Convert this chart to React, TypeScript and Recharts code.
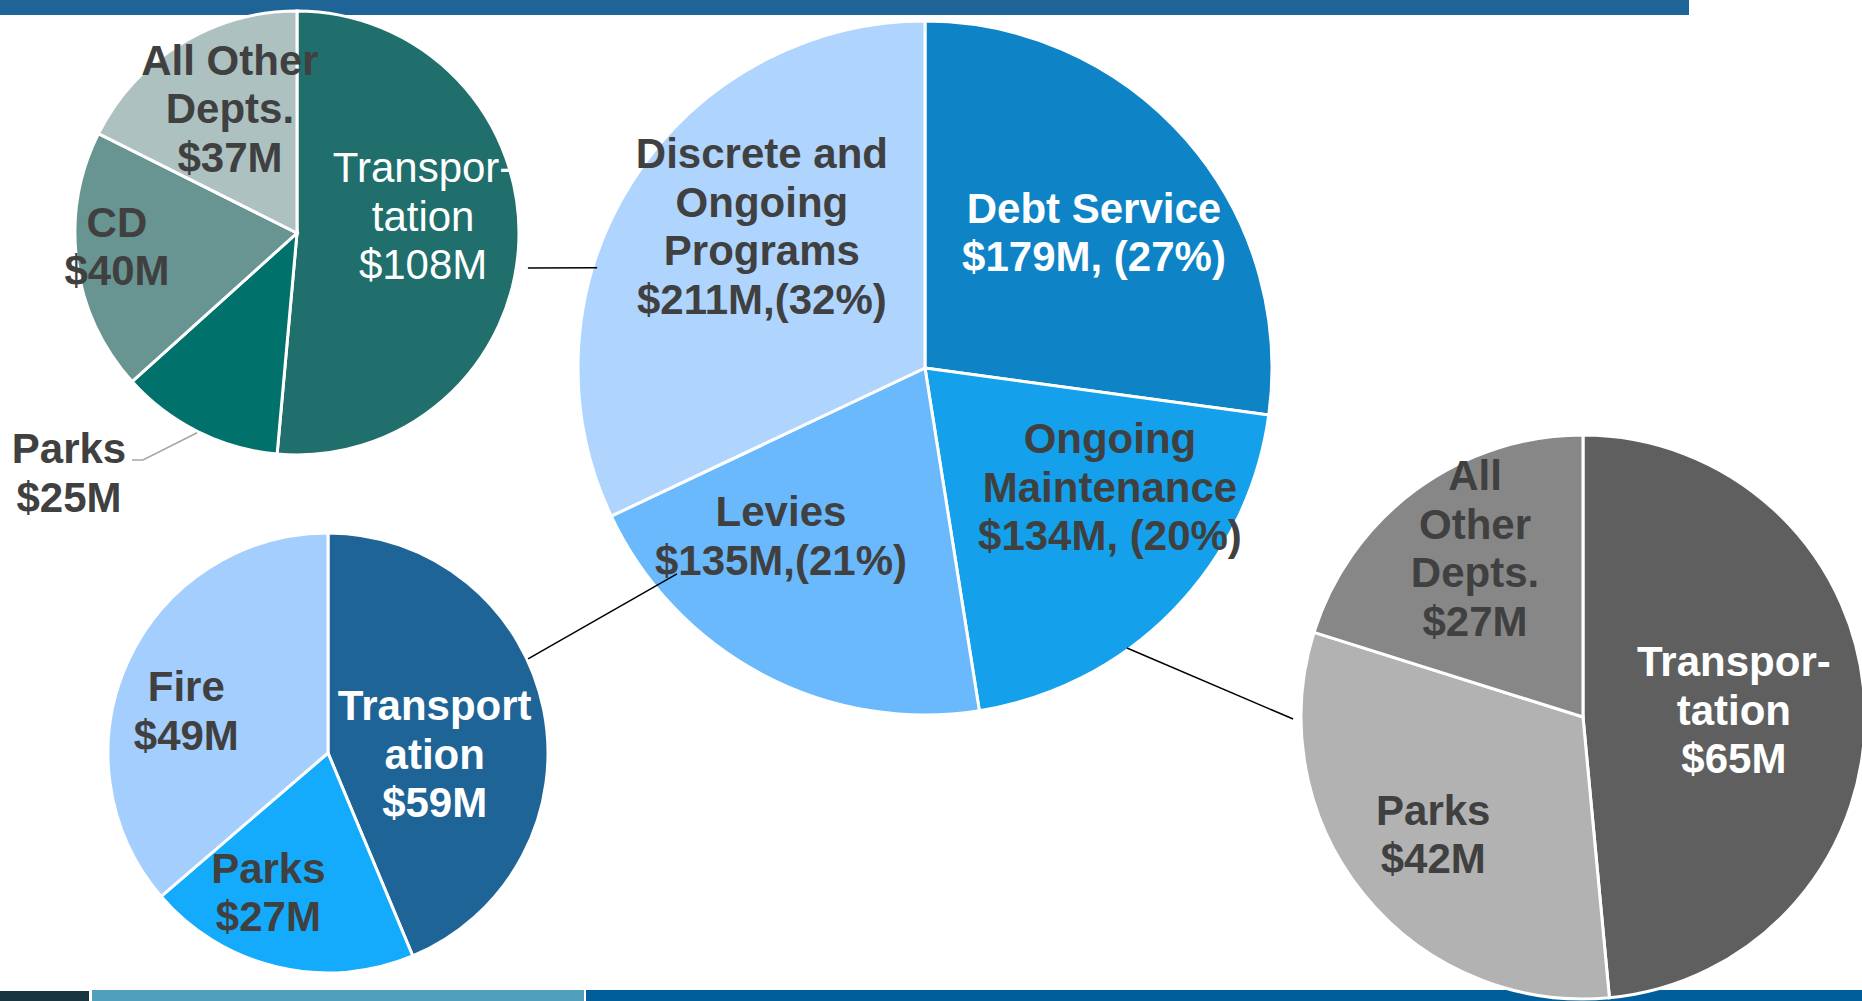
import React from "react";
import { PieChart, Pie, Cell } from "recharts";

// ---------- DATA ----------
// Upper-left pie: Discrete and Ongoing Programs by department
const programNames = ["Transportation", "Parks", "CD", "All Other Depts."];
const programValues = [108, 25, 40, 37];
const programLabels = [
  ["Transpor-", "tation", "$108M"],
  ["Parks", "$25M"],
  ["CD", "$40M"],
  ["All Other", "Depts.", "$37M"],
];

// Centre pie: categories
const categoryNames = ["Debt Service", "Ongoing Maintenance", "Levies", "Discrete and Ongoing Programs"];
const categoryValues = [179, 134, 135, 211];
const categoryLabels = [
  ["Debt Service", "$179M, (27%)"],
  ["Ongoing", "Maintenance", "$134M, (20%)"],
  ["Levies", "$135M,(21%)"],
  ["Discrete and", "Ongoing", "Programs", "$211M,(32%)"],
];

// Lower-left pie: Levies by department
const levyNames = ["Transportation", "Parks", "Fire"];
const levyValues = [59, 27, 49];
const levyLabels = [
  ["Transport", "ation", "$59M"],
  ["Parks", "$27M"],
  ["Fire", "$49M"],
];

// Lower-right pie: Ongoing Maintenance by department
const maintNames = ["Transportation", "Parks", "All Other Depts."];
const maintValues = [65, 42, 27];
const maintLabels = [
  ["Transpor-", "tation", "$65M"],
  ["Parks", "$42M"],
  ["All", "Other", "Depts.", "$27M"],
];

// ---------- LAYOUT / STYLE ----------
const W = 1862;
const H = 1001;
const FONT = "'Liberation Sans', Arial, Helvetica, sans-serif";
const FS = 42;
const LH = 48.5;
const DARK = "#404040";
const WHITE = "#ffffff";

type PieCfg = {
  id: string;
  cx: number;
  cy: number;
  r: number;
  colors: string[];
  labelPos: [number, number][];
  textColors: string[];
  weights: number[];
  leaderIndex?: number;
};

const pieA: PieCfg = {
  id: "A",
  cx: 297,
  cy: 233,
  r: 222,
  colors: ["#206f6c", "#00716b", "#689592", "#adc2c0"],
  labelPos: [[0.568, -0.077], [-1.027, 1.081], [-0.811, 0.061], [-0.302, -0.561]],
  textColors: [WHITE, DARK, DARK, DARK],
  weights: [400, 700, 700, 700],
  leaderIndex: 1,
};
const pieB: PieCfg = {
  id: "B",
  cx: 925,
  cy: 368,
  r: 347,
  colors: ["#0e84c6", "#14a0ea", "#6ab9fd", "#afd4fe"],
  labelPos: [[0.487, -0.391], [0.533, 0.343], [-0.415, 0.484], [-0.47, -0.409]],
  textColors: [WHITE, DARK, DARK, DARK],
  weights: [700, 700, 700, 700],
};
const pieC: PieCfg = {
  id: "C",
  cx: 328,
  cy: 753,
  r: 220,
  colors: ["#1f6496", "#14abfd", "#a3cefd"],
  labelPos: [[0.485, 0.005], [-0.271, 0.634], [-0.644, -0.192]],
  textColors: [WHITE, DARK, DARK],
  weights: [700, 700, 700],
};
const pieD: PieCfg = {
  id: "D",
  cx: 1583,
  cy: 717,
  r: 282,
  colors: ["#5f5f5f", "#b2b2b2", "#878787"],
  labelPos: [[0.535, -0.025], [-0.531, 0.416], [-0.383, -0.598]],
  textColors: [WHITE, DARK, DARK],
  weights: [700, 700, 700],
};

const RAD = Math.PI / 180;
const polar = (p: PieCfg, angleDeg: number, rf: number) => ({
  x: p.cx + Math.cos(angleDeg * RAD) * p.r * rf,
  y: p.cy - Math.sin(angleDeg * RAD) * p.r * rf,
});

// connectors between pies: [pie, angle, radius factor] -> [pie, angle, radius factor]
const connectors: [PieCfg, number, number, PieCfg, number, number][] = [
  [pieA, -8.6, 1.052, pieB, 163, 0.988],
  [pieB, -140.3, 0.929, pieC, 25.2, 1.005],
  [pieB, -54.2, 0.995, pieD, -179.6, 1.028],
];

const makeLabel = (cfg: PieCfg, lines: string[][]) => (props: any) => {
  const { cx, cy, outerRadius, index, midAngle } = props;
  const [ox, oy] = cfg.labelPos[index];
  const x = cx + ox * outerRadius;
  const y = cy + oy * outerRadius;
  const ls = lines[index];
  const n = ls.length;
  let leader = null;
  if (cfg.leaderIndex === index) {
    const sx = cx + Math.cos(-midAngle * RAD) * outerRadius * 1.006;
    const sy = cy + Math.sin(-midAngle * RAD) * outerRadius * 1.006;
    const ky = y - 13;
    leader = (
      <polyline
        points={`${sx},${sy} ${x + 74},${ky} ${x + 63},${ky}`}
        fill="none"
        stroke="#a6a6a6"
        strokeWidth={1.5}
      />
    );
  }
  return (
    <g key={`lbl-${cfg.id}-${index}`}>
      {leader}
      <text
        x={x}
        y={y}
        textAnchor="middle"
        fill={cfg.textColors[index]}
        fontSize={FS}
        fontWeight={cfg.weights[index]}
        fontFamily={FONT}
      >
        {ls.map((t, i) => (
          <tspan key={i} x={x} y={y + (i - (n - 1) / 2) * LH + FS * 0.35}>
            {t}
          </tspan>
        ))}
      </text>
    </g>
  );
};

const toData = (names: string[], values: number[]) =>
  names.map((name, i) => ({ name, value: values[i] }));

const renderPie = (cfg: PieCfg, names: string[], values: number[], labels: string[][]) => (
  <Pie
    key={cfg.id}
    data={toData(names, values)}
    dataKey="value"
    nameKey="name"
    cx={cfg.cx}
    cy={cfg.cy}
    outerRadius={cfg.r}
    startAngle={90}
    endAngle={-270}
    stroke="#ffffff"
    strokeWidth={3}
    isAnimationActive={false}
    labelLine={false}
    label={makeLabel(cfg, labels)}
  >
    {names.map((n, i) => (
      <Cell key={n + i} fill={cfg.colors[i]} />
    ))}
  </Pie>
);

export default function App() {
  return (
    <div
      style={{
        position: "absolute",
        left: 0,
        top: 0,
        width: W,
        height: H,
        background: "#ffffff",
        overflow: "hidden",
        fontFamily: FONT,
      }}
    >
      {/* slide decoration bars */}
      <div style={{ position: "absolute", left: 0, top: 0, width: 1689, height: 15, background: "#1f6496" }} />
      <div style={{ position: "absolute", left: 0, top: 991, width: 89, height: 10, background: "#17343f" }} />
      <div style={{ position: "absolute", left: 92, top: 990, width: 492, height: 11, background: "#4f9fbd" }} />
      <div style={{ position: "absolute", left: 586, top: 990, width: W - 586, height: 11, background: "#005f9a" }} />

      <div style={{ position: "absolute", left: 0, top: 0 }}>
        <PieChart width={W} height={H} margin={{ top: 0, right: 0, bottom: 0, left: 0 }}>
          {renderPie(pieA, programNames, programValues, programLabels)}
          {renderPie(pieB, categoryNames, categoryValues, categoryLabels)}
          {renderPie(pieC, levyNames, levyValues, levyLabels)}
          {renderPie(pieD, maintNames, maintValues, maintLabels)}
        </PieChart>
      </div>

      <svg
        width={W}
        height={H}
        style={{ position: "absolute", left: 0, top: 0, pointerEvents: "none" }}
      >
        {connectors.map(([p1, a1, r1, p2, a2, r2], i) => {
          const s = polar(p1, a1, r1);
          const e = polar(p2, a2, r2);
          return <line key={i} x1={s.x} y1={s.y} x2={e.x} y2={e.y} stroke="#000000" strokeWidth={1.5} />;
        })}
      </svg>
    </div>
  );
}
